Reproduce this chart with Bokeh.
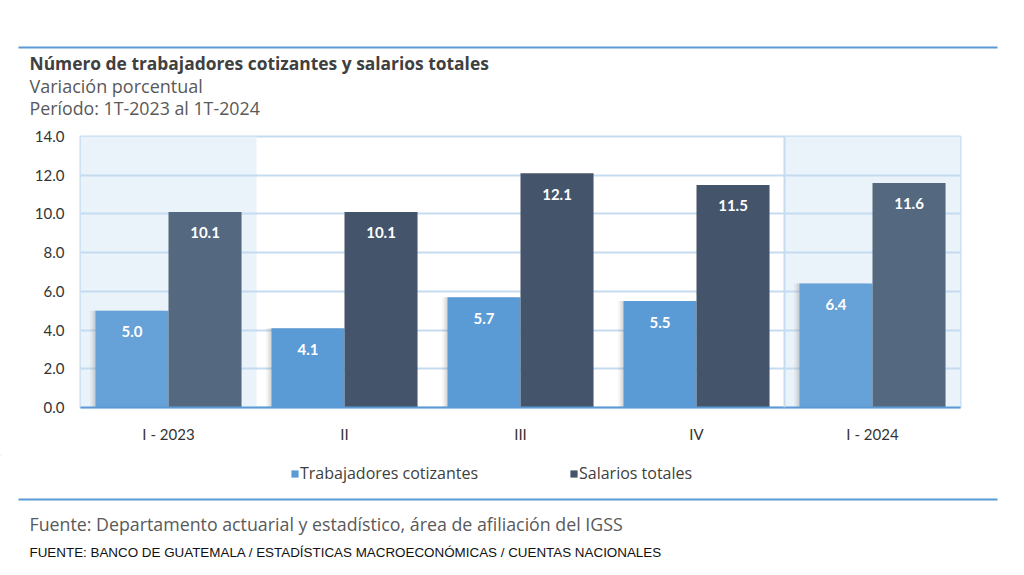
from bokeh.plotting import figure
from bokeh.layouts import column
from bokeh.models import (ColumnDataSource, FactorRange, Label, Legend, LegendItem,
                          BoxAnnotation, FixedTicker, NumeralTickFormatter, Range1d)
from bokeh.transform import dodge
from bokeh.core.properties import value
from bokeh.embed import file_html
from bokeh.resources import INLINE

categories = ["I - 2023", "II", "III", "IV", "I - 2024"]
trabajadores = [5.0, 4.1, 5.7, 5.5, 6.4]
salarios = [10.1, 10.1, 12.1, 11.5, 11.6]
y_ticks = [0.0, 2.0, 4.0, 6.0, 8.0, 10.0, 12.0, 14.0]
highlighted = ["I - 2023", "I - 2024"]
series_names = ["Trabajadores cotizantes", "Salarios totales"]

LIGHT = "#5B9BD5"
LIGHT_HI = "#66A2D7"
DARK = "#44546A"
DARK_HI = "#546880"
GRID = "#C5DCF0"
SHADE = "#EAF2FA"
RULE = "#5B9BD5"
FONT = "Lato"
TFONT = "Open Sans"


def blank_fig(h, y0, y1):
    f = figure(width=1024, height=h, x_range=Range1d(0, 1024), y_range=Range1d(y1, y0),
               output_backend="svg", toolbar_location=None,
               min_border=0, min_border_left=0, min_border_right=0,
               min_border_top=0, min_border_bottom=0)
    f.axis.visible = False
    f.grid.visible = False
    f.outline_line_color = None
    f.background_fill_color = "white"
    f.border_fill_color = "white"
    f.frame_align = False
    return f


def add_label(f, text, x, y, size, color, style="normal", font=TFONT):
    f.add_layout(Label(x=x, y=y, text=text, text_font=font, text_font_size=size,
                       text_color=color, text_font_style=style,
                       text_baseline="middle", text_align="left"))


# ---------------- header ----------------
head = blank_fig(120, 0, 120)
head.add_layout(BoxAnnotation(left=18, right=997, top=46, bottom=48,
                              fill_color=RULE, fill_alpha=1, line_color=None))
add_label(head, "Número de trabajadores cotizantes y salarios totales", 29, 62, "17.4px", "#404040", "bold")
add_label(head, "Variación porcentual", 29, 85, "18px", "#595959")
add_label(head, "Período: 1T-2023 al 1T-2024", 29, 107, "17.8px", "#595959")

# ---------------- chart ----------------
src = ColumnDataSource(dict(
    cat=categories,
    t=trabajadores,
    s=salarios,
    t_lbl=[f"{v:.1f}" for v in trabajadores],
    s_lbl=[f"{v:.1f}" for v in salarios],
    t_col=[LIGHT_HI if c in highlighted else LIGHT for c in categories],
    s_col=[DARK_HI if c in highlighted else DARK for c in categories],
    shade=[14.0 if c in highlighted else 0.0 for c in categories],
))

p = figure(width=1024, height=335, x_range=FactorRange(*categories, range_padding=0),
           y_range=(0, 14), output_backend="svg", toolbar_location=None,
           min_border_left=80, min_border_right=64, min_border_top=16, min_border_bottom=48)
p.background_fill_color = "white"
p.border_fill_color = "white"
p.outline_line_color = GRID
p.outline_line_width = 2
p.frame_align = False

p.vbar(x="cat", top="shade", bottom=0, width=1.0, source=src, fill_color=SHADE,
       line_color=None, level="underlay")

BW = 0.415
OFF = 0.2075
for k, a in [(0.012, 0.10), (0.022, 0.07), (0.032, 0.04)]:
    p.vbar(x=dodge("cat", -OFF - k, range=p.x_range), top="t", width=BW, source=src,
           fill_color="#555555", fill_alpha=a, line_color=None)

p.vbar(x=dodge("cat", -OFF, range=p.x_range), top="t", width=BW, source=src,
       fill_color="t_col", line_color=None)
p.vbar(x=dodge("cat", OFF, range=p.x_range), top="s", width=BW, source=src,
       fill_color="s_col", line_color=None)

for xoff, ycol, lcol in [(-OFF, "t", "t_lbl"), (OFF, "s", "s_lbl")]:
    p.text(x=dodge("cat", xoff, range=p.x_range), y=ycol, text=lcol, source=src, y_offset=21,
           text_align="center", text_baseline="middle", text_color="white",
           text_font=value(FONT), text_font_style="bold", text_font_size="15px")

p.xgrid.grid_line_color = None
p.ygrid.grid_line_color = GRID
p.ygrid.grid_line_width = 2
p.ygrid.ticker = FixedTicker(ticks=y_ticks)

p.yaxis.ticker = FixedTicker(ticks=y_ticks)
p.yaxis.formatter = NumeralTickFormatter(format="0.0")
p.yaxis.axis_line_color = None
p.yaxis.major_tick_line_color = None
p.yaxis.minor_tick_line_color = None
p.yaxis.major_tick_out = 0
p.yaxis.major_label_standoff = 16
p.yaxis.major_label_text_font = FONT
p.yaxis.major_label_text_font_size = "15px"
p.yaxis.major_label_text_color = "#333333"

p.xaxis.axis_line_color = RULE
p.xaxis.axis_line_width = 2
p.xaxis.major_tick_line_color = None
p.xaxis.minor_tick_line_color = None
p.xaxis.major_tick_out = 0
p.xaxis.major_label_standoff = 17
p.xaxis.major_label_text_font = FONT
p.xaxis.major_label_text_font_size = "15px"
p.xaxis.major_label_text_color = "#333333"

# separator at the start of the last shaded period
p.add_layout(BoxAnnotation(left=703, right=705, top=0, bottom=271,
                           left_units="screen", right_units="screen",
                           top_units="screen", bottom_units="screen",
                           fill_color=GRID, fill_alpha=1, line_color=None))

# ---------------- footer ----------------
foot = blank_fig(120, 455, 575)
foot.add_layout(BoxAnnotation(left=18, right=997, top=498, bottom=500,
                              fill_color=RULE, fill_alpha=1, line_color=None))
add_label(foot, "Fuente: Departamento actuarial y estadístico, área de afiliación del IGSS",
          29, 523, "17.8px", "#595959")
add_label(foot, "FUENTE: BANCO DE GUATEMALA / ESTADÍSTICAS MACROECONÓMICAS / CUENTAS NACIONALES",
          29, 552, "13.4px", "#111111", font="Liberation Sans")

r1 = foot.vbar(x=[-100], top=[-100], width=1, fill_color=LIGHT, line_color=None)
r2 = foot.vbar(x=[-100], top=[-100], width=1, fill_color=DARK, line_color=None)
for r, lbl, lx in [(r1, series_names[0], 290), (r2, series_names[1], 569)]:
    lg = Legend(items=[LegendItem(label=lbl, renderers=[r])], location=(lx, 91),
                orientation="horizontal", padding=0, margin=0, border_line_color=None,
                background_fill_alpha=0, glyph_width=9, glyph_height=9, label_standoff=1,
                label_text_font=TFONT, label_text_font_size="16px", label_text_color="#404040",
                label_height=18)
    foot.add_layout(lg, "center")

layout = column(head, p, foot, spacing=0)
open("out.html", "w").write(file_html(layout, INLINE))
